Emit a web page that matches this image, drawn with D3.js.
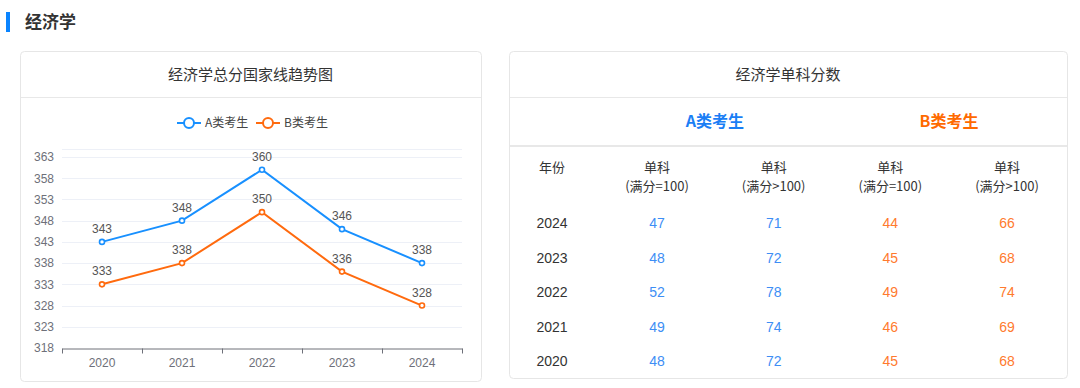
<!DOCTYPE html>
<html>
<head>
<meta charset="utf-8">
<script src="https://cdn.jsdelivr.net/npm/d3@7"></script>
<style>
  html, body { margin: 0; padding: 0; background: #fff; }
  svg { display: block; font-family: "Liberation Sans", "Noto Sans CJK SC", sans-serif; }
</style>
</head>
<body>
<svg id="chart" width="1080" height="388"></svg>
<script>
// 數據
var years = ["2020", "2021", "2022", "2023", "2024"];
var seriesA = [343, 348, 360, 346, 338];
var seriesB = [333, 338, 350, 336, 328];
var yTicks = [318, 323, 328, 333, 338, 343, 348, 353, 358, 363];
var seriesNames = ["A类考生", "B类考生"];

var tableYears = ["2024", "2023", "2022", "2021", "2020"];
var aEq100 = [47, 48, 52, 49, 48];
var aGt100 = [71, 72, 78, 74, 72];
var bEq100 = [44, 45, 49, 46, 45];
var bGt100 = [66, 68, 74, 69, 68];
var colHeads = ["(满分=100)", "(满分>100)", "(满分=100)", "(满分>100)"];

var blue = "#1890ff", orange = "#ff6a0e";
var svg = d3.select("#chart");
var cjk = "'Noto Sans CJK SC', 'Liberation Sans', sans-serif";

// 頁標題
svg.append("rect").attr("x", 6).attr("y", 12).attr("width", 4).attr("height", 20).attr("fill", "#0a84ff");
svg.append("text").attr("x", 25).attr("y", 28).attr("font-size", 17).attr("font-weight", "bold")
  .attr("font-family", cjk).attr("fill", "#333").text("经济学");

// 卡片
function card(x, y, w, h, title){
  svg.append("rect").attr("x", x + 0.5).attr("y", y + 0.5).attr("width", w).attr("height", h)
    .attr("rx", 4).attr("fill", "#fff").attr("stroke", "#e6e6e6");
  svg.append("line").attr("x1", x + 1).attr("x2", x + w).attr("y1", 97.5).attr("y2", 97.5).attr("stroke", "#e8e8e8");
  svg.append("text").attr("x", x + w / 2).attr("y", 80).attr("text-anchor", "middle")
    .attr("font-size", 15).attr("font-family", cjk).attr("fill", "#333").text(title);
}
card(20, 51, 461, 330, "经济学总分国家线趋势图");
card(509, 51, 558, 327, "经济学单科分数");

// 折線圖
var x = d3.scaleBand().domain(years).range([62, 462]);
var y = d3.scaleLinear().domain([318, 365]).range([348, 148.5]);

var g = svg.append("g");
g.selectAll("line.grid").data(yTicks.slice(1).concat([365])).enter().append("line")
  .attr("class", "grid").attr("x1", 62).attr("x2", 462)
  .attr("y1", d => Math.round(y(d)) + 0.5).attr("y2", d => Math.round(y(d)) + 0.5)
  .attr("stroke", "#edf0f7");

var yAxis = g.append("g").attr("transform", "translate(62,0)")
  .call(d3.axisLeft(y).tickValues(yTicks).tickSize(0).tickPadding(8));
yAxis.select(".domain").remove();
yAxis.selectAll("text").attr("font-size", 12).attr("fill", "#6e7079");

var xAxis = g.append("g").attr("transform", "translate(0,348.5)")
  .call(d3.axisBottom(x).tickSize(0).tickPadding(10));
xAxis.select(".domain").attr("stroke", "#6e7079");
xAxis.selectAll("text").attr("font-size", 12).attr("fill", "#6e7079");
xAxis.selectAll("line.tk").data(d3.range(years.length + 1)).enter().append("line")
  .attr("class", "tk").attr("x1", i => 62 + i * x.bandwidth() + 0.5).attr("x2", i => 62 + i * x.bandwidth() + 0.5)
  .attr("y1", 0).attr("y2", 5).attr("stroke", "#6e7079");

var line = d3.line().x((d, i) => x(years[i]) + x.bandwidth() / 2).y(d => y(d));
[[seriesA, blue], [seriesB, orange]].forEach(function(s){
  var vals = s[0], col = s[1];
  g.append("path").datum(vals).attr("d", line).attr("fill", "none").attr("stroke", col).attr("stroke-width", 2);
  g.selectAll(null).data(vals).enter().append("circle")
    .attr("cx", (d, i) => x(years[i]) + x.bandwidth() / 2).attr("cy", d => y(d)).attr("r", 2.5)
    .attr("fill", "#fff").attr("stroke", col).attr("stroke-width", 1.6);
  g.selectAll(null).data(vals).enter().append("text")
    .attr("x", (d, i) => x(years[i]) + x.bandwidth() / 2).attr("y", d => y(d) - 9)
    .attr("text-anchor", "middle").attr("font-size", 12).attr("fill", "#555").text(d => d);
});

// 圖例
var legend = [[177, blue, seriesNames[0]], [256, orange, seriesNames[1]]];
legend.forEach(function(l){
  var lg = svg.append("g").attr("transform", "translate(" + l[0] + ",123)");
  lg.append("line").attr("x1", 0).attr("x2", 24).attr("stroke", l[1]).attr("stroke-width", 2);
  lg.append("circle").attr("cx", 12).attr("r", 5).attr("fill", "#fff").attr("stroke", l[1]).attr("stroke-width", 2);
  lg.append("text").attr("x", 28).attr("y", 4).attr("font-size", 12).attr("font-family", cjk)
    .attr("fill", "#444").text(l[2]);
});

// 表格
svg.append("line").attr("x1", 510).attr("x2", 1067).attr("y1", 146).attr("y2", 146).attr("stroke", "#e0e0e0").attr("stroke-width", 1.5);
svg.append("text").attr("x", 715).attr("y", 127).attr("text-anchor", "middle").attr("font-size", 16)
  .attr("font-weight", "bold").attr("font-family", cjk).attr("fill", "#1a7ef5").text(seriesNames[0]);
svg.append("text").attr("x", 949).attr("y", 127).attr("text-anchor", "middle").attr("font-size", 16)
  .attr("font-weight", "bold").attr("font-family", cjk).attr("fill", "#ff6a00").text(seriesNames[1]);

// 欄位位置
var yearColX = 552;
var colX = d3.scaleLinear().domain([0, 3]).range([657, 1007]);
svg.append("text").attr("x", yearColX).attr("y", 172).attr("text-anchor", "middle").attr("font-size", 13)
  .attr("font-family", cjk).attr("fill", "#333").text("年份");
colHeads.forEach(function(h, i){
  svg.append("text").attr("x", colX(i)).attr("y", 172).attr("text-anchor", "middle").attr("font-size", 13)
    .attr("font-family", cjk).attr("fill", "#333").text("单科");
  svg.append("text").attr("x", colX(i)).attr("y", 191).attr("text-anchor", "middle").attr("font-size", 13)
    .attr("font-family", cjk).attr("fill", "#333").text(h);
});

var rowY = d3.scalePoint().domain(tableYears).range([228, 366]);
var cols = [[aEq100, "#3d8ef5"], [aGt100, "#3d8ef5"], [bEq100, "#ff7a2e"], [bGt100, "#ff7a2e"]];
tableYears.forEach(function(yr, r){
  svg.append("text").attr("x", yearColX).attr("y", rowY(yr)).attr("text-anchor", "middle")
    .attr("font-size", 14).attr("fill", "#333").text(yr);
  cols.forEach(function(c, i){
    svg.append("text").attr("x", colX(i)).attr("y", rowY(yr)).attr("text-anchor", "middle")
      .attr("font-size", 14).attr("fill", c[1]).text(c[0][r]);
  });
});
</script>
</body>
</html>
